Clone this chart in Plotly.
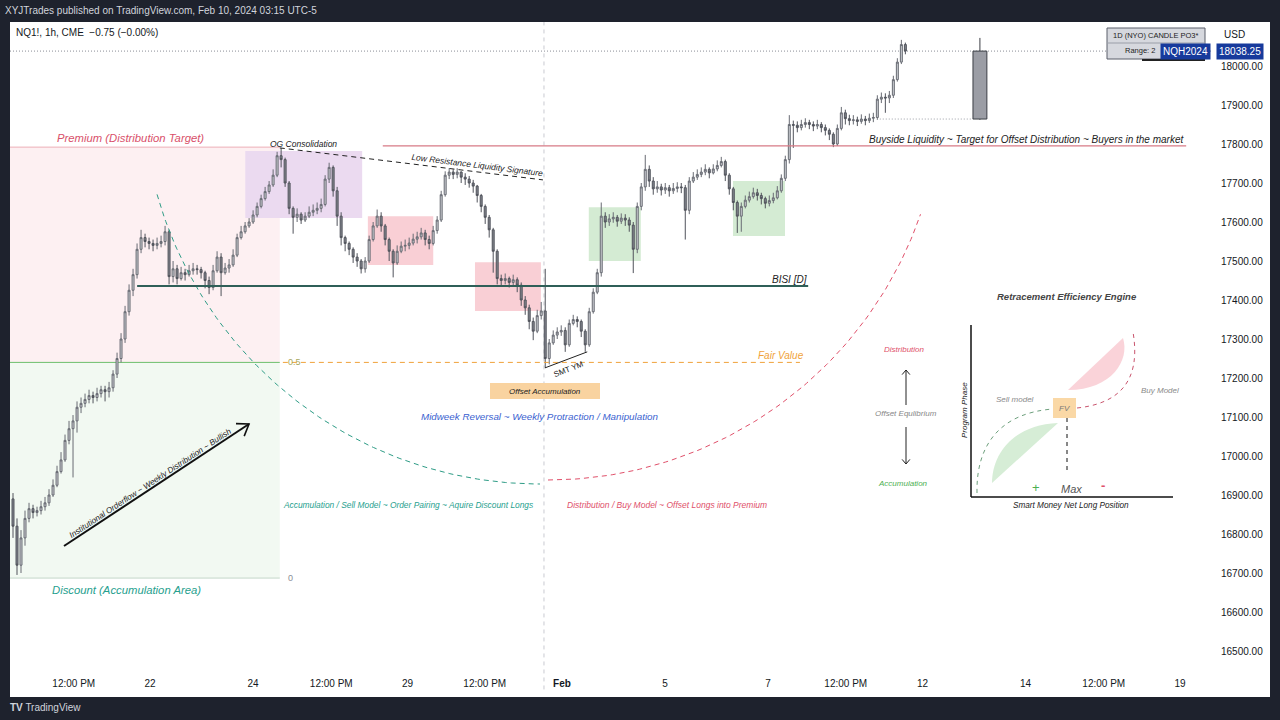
import math
import plotly.graph_objects as go

W, H = 1280, 720
FONT = "Liberation Sans, Arial, sans-serif"

# ---------------- pane geometry / axis calibration ----------------
PANE_L, PANE_R, PANE_T, PANE_B = 10, 1212, 22, 670
DAY0_PX, DAY_PX = 150.0, 51.5            # "22" label position, px per trading day
P_REF, P_REF_PX, PX_PER_PT = 18000.0, 66.0, 0.39

X_RANGE = [(PANE_L - DAY0_PX) / DAY_PX, (PANE_R - DAY0_PX) / DAY_PX]
Y_RANGE = [P_REF - (PANE_B - P_REF_PX) / PX_PER_PT, P_REF + (P_REF_PX - PANE_T) / PX_PER_PT]

def py_of(price):
    return P_REF_PX - (price - P_REF) * PX_PER_PT

# ---------------- data ----------------
X_TICKS = [-1.48, 0, 2, 3.52, 5, 6.5, 8, 10, 12, 13.51, 15, 17, 18.52, 20]
X_LABELS = ["12:00 PM", "22", "24", "12:00 PM", "29", "12:00 PM", "<b>Feb</b>", "5", "7",
            "12:00 PM", "12", "14", "12:00 PM", "19"]
Y_TICKS = [16500, 16600, 16700, 16800, 16900, 17000, 17100, 17200, 17300, 17400,
           17500, 17600, 17700, 17800, 17900, 18000]

FIRST_BAR_DAY = -2.66
BAR_DAYS = 0.0777
FIRST_OPEN = 16890
closes = [16820, 16720, 16790, 16840, 16865, 16855, 16860, 16870, 16880, 16900,
          16925, 16960, 16990, 17040, 17070, 17090, 17125, 17135, 17145, 17155,
          17150, 17160, 17170, 17165, 17175, 17210, 17250, 17300, 17370, 17425,
          17465, 17530, 17560, 17550, 17545, 17540, 17545, 17550, 17575, 17460,
          17480, 17455, 17470, 17465, 17475, 17480, 17478, 17470, 17450, 17432,
          17475, 17510, 17470, 17482, 17490, 17515, 17560, 17575, 17590, 17600,
          17618, 17640, 17660, 17678, 17695, 17720, 17770, 17760, 17700, 17635,
          17612, 17620, 17605, 17615, 17625, 17630, 17635, 17645, 17710, 17740,
          17680, 17615, 17560, 17545, 17530, 17510, 17500, 17480, 17500, 17555,
          17590, 17615, 17590, 17555, 17525, 17495, 17525, 17538, 17540, 17546,
          17556, 17562, 17572, 17555, 17545, 17578, 17605, 17670, 17720, 17728,
          17722, 17728, 17715, 17710, 17700, 17692, 17668, 17640, 17612, 17580,
          17525, 17455, 17450, 17455, 17445, 17452, 17438, 17400, 17380, 17345,
          17320, 17360, 17372, 17250, 17290, 17310, 17318, 17322, 17285, 17340,
          17350, 17345, 17320, 17285, 17370, 17420, 17470, 17615, 17600, 17608,
          17612, 17602, 17610, 17605, 17592, 17530, 17640, 17690, 17735, 17705,
          17685, 17690, 17682, 17688, 17680, 17686, 17690, 17688, 17630, 17705,
          17715, 17722, 17728, 17735, 17726, 17736, 17745, 17755, 17720, 17685,
          17650, 17615, 17640, 17656, 17665, 17675, 17668, 17660, 17648, 17655,
          17662, 17680, 17712, 17760, 17850, 17848, 17842, 17850, 17855, 17850,
          17846, 17850, 17842, 17835, 17825, 17800, 17840, 17880, 17865, 17860,
          17862, 17858, 17864, 17860, 17866, 17868, 17915, 17920, 17918, 17925,
          17965, 18010, 18055, 18038.25]
highs = [16905, 16840, 16810, 16860, 16880, 16875, 16870, 16885, 16895, 16915,
         16940, 16975, 17010, 17055, 17090, 17105, 17140, 17150, 17160, 17170,
         17165, 17175, 17180, 17180, 17190, 17220, 17265, 17315, 17385, 17440,
         17480, 17545, 17580, 17570, 17560, 17555, 17560, 17565, 17590, 17580,
         17500, 17490, 17485, 17480, 17490, 17495, 17490, 17485, 17475, 17460,
         17490, 17525, 17520, 17495, 17505, 17530, 17570, 17590, 17600, 17610,
         17630, 17650, 17670, 17690, 17705, 17735, 17780, 17790, 17765, 17705,
         17640, 17635, 17625, 17625, 17640, 17645, 17650, 17660, 17720, 17752,
         17745, 17690, 17625, 17565, 17550, 17535, 17520, 17505, 17510, 17565,
         17600, 17632, 17625, 17595, 17560, 17530, 17540, 17550, 17555, 17560,
         17570, 17575, 17585, 17580, 17565, 17590, 17615, 17680, 17730, 17738,
         17735, 17738, 17730, 17725, 17718, 17708, 17695, 17672, 17645, 17618,
         17585, 17530, 17465, 17468, 17460, 17465, 17458, 17445, 17410, 17388,
         17355, 17375, 17395, 17480, 17300, 17322, 17330, 17335, 17330, 17350,
         17362, 17358, 17350, 17325, 17380, 17430, 17480, 17650, 17625, 17620,
         17625, 17618, 17622, 17620, 17612, 17600, 17650, 17700, 17772, 17745,
         17715, 17705, 17698, 17700, 17695, 17700, 17702, 17700, 17695, 17715,
         17728, 17735, 17740, 17748, 17740, 17748, 17758, 17767, 17760, 17725,
         17690, 17655, 17650, 17668, 17678, 17688, 17685, 17675, 17665, 17668,
         17675, 17692, 17722, 17770, 17874, 17860, 17858, 17862, 17866, 17862,
         17858, 17862, 17856, 17850, 17840, 17830, 17850, 17895, 17888, 17875,
         17874, 17870, 17876, 17872, 17878, 17880, 17925, 17932, 17930, 17936,
         17975, 18020, 18067, 18060]
lows = [16790, 16695, 16700, 16770, 16830, 16840, 16845, 16850, 16860, 16872,
        16895, 16920, 16955, 16985, 17030, 16945, 17060, 17110, 17125, 17135,
        17135, 17140, 17150, 17140, 17150, 17165, 17200, 17240, 17290, 17360,
        17410, 17455, 17520, 17535, 17530, 17525, 17530, 17535, 17540, 17440,
        17445, 17440, 17450, 17450, 17460, 17465, 17465, 17455, 17430, 17415,
        17425, 17470, 17410, 17465, 17470, 17485, 17510, 17555, 17570, 17585,
        17595, 17612, 17635, 17655, 17672, 17690, 17715, 17740, 17690, 17620,
        17570, 17600, 17595, 17600, 17610, 17615, 17620, 17625, 17640, 17700,
        17665, 17590, 17540, 17525, 17515, 17495, 17485, 17468, 17470, 17495,
        17550, 17585, 17575, 17540, 17500, 17458, 17490, 17520, 17525, 17530,
        17540, 17545, 17555, 17540, 17530, 17540, 17570, 17600, 17665, 17710,
        17710, 17712, 17700, 17695, 17688, 17675, 17650, 17625, 17595, 17560,
        17470, 17440, 17438, 17440, 17432, 17438, 17420, 17385, 17362, 17325,
        17297, 17315, 17350, 17226, 17235, 17285, 17300, 17308, 17267, 17280,
        17335, 17330, 17305, 17267, 17280, 17365, 17415, 17460, 17585, 17590,
        17598, 17588, 17595, 17590, 17575, 17469, 17520, 17630, 17680, 17690,
        17670, 17675, 17668, 17672, 17665, 17672, 17676, 17674, 17555, 17620,
        17700, 17708, 17715, 17720, 17712, 17722, 17730, 17740, 17705, 17670,
        17630, 17572, 17575, 17635, 17650, 17660, 17655, 17645, 17635, 17640,
        17648, 17658, 17675, 17705, 17750, 17790, 17830, 17835, 17842, 17838,
        17833, 17838, 17830, 17822, 17810, 17792, 17795, 17835, 17850, 17848,
        17850, 17846, 17852, 17848, 17854, 17856, 17862, 17905, 17880, 17905,
        17918, 17960, 18005, 18030]
opens = [FIRST_OPEN] + closes[:-1]
bar_days = [FIRST_BAR_DAY + i * BAR_DAYS for i in range(len(closes))]
LAST_PRICE = closes[-1]

# key levels and zones (days, prices)
PREMIUM, EQUILIBRIUM, DISCOUNT = 17792, 17240, 16687
FIB_END_DAY = 2.52
BISI_LEVEL, BISI_DAYS = 17436, (-0.25, 12.78)
FAIR_VALUE_DAYS = (2.58, 12.62)
BSL_LEVEL, BSL_DAYS = 17795, (4.52, 20.12)
LRLS_LINE = ((2.52, 17790), (7.63, 17708))
FOMC_DAY = 7.65
SMT_LINE = ((7.67, 17226), (8.49, 17267))
OG_BOX = (1.85, 4.12, 17610, 17782)
PINK_BOXES = [(4.23, 5.50, 17490, 17615), (6.31, 7.59, 17372, 17497)]
GREEN_BOXES = [(8.52, 9.53, 17500, 17638), (11.32, 12.33, 17564, 17705)]
PO3_DAYS = (15.98, 16.25)
PO3_OHLC = (17864, 18072, 17862, 18038.25)
PO3_LINE_START = 14.17

fig = go.Figure()

fig.add_trace(go.Candlestick(
    x=bar_days, open=opens, high=highs, low=lows, close=closes,
    increasing=dict(line=dict(color="#686b73", width=1), fillcolor="#cdcfd4"),
    decreasing=dict(line=dict(color="#50535b", width=1), fillcolor="#83868e"),
    whiskerwidth=0, showlegend=False, hoverinfo="skip"))

# ---------------- pixel-space drawing geometry (x2 / y2 overlay) ----------------
def arc_pts(cx, cy, r, a0, a1, sign, n=90):
    xs, ys = [], []
    for k in range(n + 1):
        a = math.radians(a0 + (a1 - a0) * k / n)
        xs.append(cx + sign * r * math.sin(a))
        ys.append(cy + r * math.cos(a))
    return xs, ys

tx, ty = arc_pts(540, 86, 398, 74.2, 0, -1)
rx, ry = arc_pts(548, 86, 394, 0, 71, 1)
fig.add_trace(go.Scatter(x=tx, y=ty, xaxis="x2", yaxis="y2", mode="lines",
                         line=dict(color="#2e9c86", width=1, dash="5px,4px"),
                         showlegend=False, hoverinfo="skip"))
fig.add_trace(go.Scatter(x=rx, y=ry, xaxis="x2", yaxis="y2", mode="lines",
                         line=dict(color="#e0506a", width=1, dash="5px,4px"),
                         showlegend=False, hoverinfo="skip"))

shapes = []
annos = []

def P(px, py):
    return px / W, 1 - py / H

# frame (white chart area)
shapes.append(dict(type="rect", xref="paper", yref="paper", x0=P(10, 0)[0], x1=P(1270, 0)[0],
                   y0=P(0, 697)[1], y1=P(0, 22)[1], fillcolor="white", line=dict(width=0), layer="below"))

def drect(x0, x1, y0, y1, fill, layer="below"):
    shapes.append(dict(type="rect", xref="x", yref="y", x0=x0, x1=x1, y0=y0, y1=y1,
                       fillcolor=fill, line=dict(width=0), layer=layer))

def dline(x0, y0, x1, y1, color, width=1, dash="solid", layer="above", xref="x", yref="y"):
    shapes.append(dict(type="line", xref=xref, yref=yref, x0=x0, y0=y0, x1=x1, y1=y1,
                       line=dict(color=color, width=width, dash=dash), layer=layer))

# premium / discount fib
drect(X_RANGE[0], FIB_END_DAY, EQUILIBRIUM, PREMIUM, "#fdf0f2")
drect(X_RANGE[0], FIB_END_DAY, DISCOUNT, EQUILIBRIUM, "#f2f9f2")
dline(X_RANGE[0], PREMIUM, FIB_END_DAY, PREMIUM, "#eeb0b8", layer="below")
dline(X_RANGE[0], EQUILIBRIUM, FIB_END_DAY, EQUILIBRIUM, "#6cbf6c", layer="below")
dline(X_RANGE[0], DISCOUNT, FIB_END_DAY, DISCOUNT, "#c3d6c9", layer="below")

drect(*OG_BOX, "#ebdaf0")
for b in PINK_BOXES:
    drect(*b, "#f9cfd5")
for b in GREEN_BOXES:
    drect(*b, "#d4ebd3")

# FOMC vertical
shapes.append(dict(type="line", xref="x", yref="y domain", x0=FOMC_DAY, x1=FOMC_DAY, y0=-0.03, y1=1,
                   line=dict(color="#c9cbd1", width=1, dash="4px,4px"), layer="below"))
# last price dotted
shapes.append(dict(type="line", xref="x domain", yref="y", x0=0, x1=1, y0=LAST_PRICE, y1=LAST_PRICE,
                   line=dict(color="#8a8d96", width=1, dash="1px,2px"), layer="below"))
dline(PO3_LINE_START, PO3_OHLC[0], PO3_DAYS[0], PO3_OHLC[0], "#9a9da5", 1, "1px,2px", layer="below")

# levels
dline(BISI_DAYS[0], BISI_LEVEL, BISI_DAYS[1], BISI_LEVEL, "#2f5f58", 2)
dline(FAIR_VALUE_DAYS[0], EQUILIBRIUM, FAIR_VALUE_DAYS[1], EQUILIBRIUM, "#f0a23a", 1, "5px,4px")
dline(BSL_DAYS[0], BSL_LEVEL, BSL_DAYS[1], BSL_LEVEL, "#d77a86", 1.2)
dline(LRLS_LINE[0][0], LRLS_LINE[0][1], LRLS_LINE[1][0], LRLS_LINE[1][1], "#222222", 1, "5px,4px")
dline(SMT_LINE[0][0], SMT_LINE[0][1], SMT_LINE[1][0], SMT_LINE[1][1], "#222222", 1)

# PO3 daily candle
po_mid = (PO3_DAYS[0] + PO3_DAYS[1]) / 2
dline(po_mid, PO3_OHLC[3], po_mid, PO3_OHLC[1], "#3b3e45", 1)
dline(po_mid, PO3_OHLC[2], po_mid, PO3_OHLC[0], "#3b3e45", 1)
shapes.append(dict(type="rect", xref="x", yref="y", x0=PO3_DAYS[0], x1=PO3_DAYS[1],
                   y0=PO3_OHLC[0], y1=PO3_OHLC[3], fillcolor="#9b9da5",
                   line=dict(color="#3b3e45", width=1), layer="above"))

# ---- pixel overlay helpers ----
def pline(x0, y0, x1, y1, color="#111", width=1, dash="solid"):
    dline(x0, y0, x1, y1, color, width, dash, layer="above", xref="x2", yref="y2")

def ppath(d, color="#111", width=1, dash="solid", fill=None):
    s = dict(type="path", xref="x2", yref="y2", path=d, layer="above",
             line=dict(color=color, width=width, dash=dash))
    if fill:
        s["fillcolor"] = fill
        s["line"] = dict(width=0)
    shapes.append(s)

def prect(x0, y0, x1, y1, fill, line=None):
    shapes.append(dict(type="rect", xref="x2", yref="y2", x0=x0, y0=y0, x1=x1, y1=y1,
                       fillcolor=fill, line=line or dict(width=0), layer="above"))

def chevron(tail, tip, length=11, half=35):
    dx, dy = tip[0] - tail[0], tip[1] - tail[1]
    n = math.hypot(dx, dy)
    ux, uy = dx / n, dy / n
    pts = []
    for s in (1, -1):
        a = math.radians(half * s)
        vx = ux * math.cos(a) - uy * math.sin(a)
        vy = ux * math.sin(a) + uy * math.cos(a)
        pts.append((tip[0] - length * vx, tip[1] - length * vy))
    return f"M {pts[0][0]:.1f} {pts[0][1]:.1f} L {tip[0]} {tip[1]} L {pts[1][0]:.1f} {pts[1][1]:.1f}"

def t2(x, y, s, size=9, color="#131722", italic=True, bold=False, angle=0, anchor="center"):
    if bold:
        s = f"<b>{s}</b>"
    if italic:
        s = f"<i>{s}</i>"
    annos.append(dict(x=x, y=y, xref="x2", yref="y2", text=s, showarrow=False, textangle=angle,
                      font=dict(size=size, color=color, family=FONT), xanchor=anchor, yanchor="middle"))

def tp(px, py, s, size=10, color="#131722", anchor="center", bg=None, pad=1):
    x, y = P(px, py)
    d = dict(x=x, y=y, xref="paper", yref="paper", text=s, showarrow=False,
             font=dict(size=size, color=color, family=FONT), xanchor=anchor, yanchor="middle")
    if bg:
        d.update(bgcolor=bg, borderpad=pad)
    annos.append(d)

# institutional orderflow arrow
INST_TAIL, INST_TIP = (64, 546), (249, 424)
pline(*INST_TAIL, *INST_TIP, "#111", 2)
ppath(chevron(INST_TAIL, INST_TIP, 13, 35), "#111", 1.6)

# offset accumulation box
prect(490, 383, 600, 399, "#f9d3a0")

# engine diagram
ENG_AXIS = dict(x=971, top=325, bottom=497, right=1173)
pline(ENG_AXIS["x"], ENG_AXIS["top"], ENG_AXIS["x"], ENG_AXIS["bottom"], "#111", 1.5)
pline(ENG_AXIS["x"], ENG_AXIS["bottom"], ENG_AXIS["right"], ENG_AXIS["bottom"], "#111", 1.5)
ppath("M 992 483 C 992 455 1012 425 1058 423 Z", fill="#d6edd6")
ppath("M 1068 390 L 1123 338 C 1130 360 1112 390 1068 390 Z", fill="#fad3d9")
ppath("M 977 493 C 976 445 1000 413 1053 409", "#6d9f7c", 1, "4px,4px")
ppath("M 1077 408 C 1115 404 1142 385 1133 332", "#c9546d", 1, "4px,4px")
prect(1053, 398, 1076, 418, "#fad8a6")
pline(1067, 418, 1067, 472, "#111", 1, "4px,4px")
pline(906, 405, 906, 370, "#222", 1)
ppath(chevron((906, 405), (906, 370), 6, 40), "#222", 1)
pline(906, 427, 906, 464, "#222", 1)
ppath(chevron((906, 427), (906, 464), 6, 40), "#222", 1)

# ---- texts on the chart ----
t2(130, 138, "Premium (Distribution Target)", 11.3, "#d9506a")
t2(126, 590, "Discount (Accumulation Area)", 11.3, "#26a08e")
t2(294, 362, "0.5", 9, "#a8a860", italic=False)
t2(290, 578, "0", 9, "#8a8d96", italic=False)
t2(303, 144, "OG Consolidation", 8.5, "#222")
t2(477, 165, "Low Resistance Liquidity Signature", 8.5, "#222", angle=7.2)
t2(1026, 139, "Buyside Liquidity ~ Target for Offset Distribution ~ Buyers in the market", 10, "#222")
t2(789, 279, "BISI [D]", 10, "#222")
t2(781, 355, "Fair Value", 10, "#f0a23a")
t2(568, 369, "SMT YM", 8, "#222", italic=False, angle=-21)
t2(545, 391, "Offset Accumulation", 8, "#222")
t2(539, 416, "Midweek Reversal ~ Weekly Protraction / Manipulation", 9.8, "#3a62d0")
t2(408, 505, "Accumulation / Sell Model ~ Order Pairing ~ Aquire Discount Longs", 8.4, "#26a08e")
t2(667, 505, "Distribution / Buy Model ~ Offset Longs into Premium", 8.5, "#e0506a")
t2(150, 483, "Institutional Orderflow ~ Weekly Distribution ~ Bullish", 8.2, "#222", angle=-33.4)

t2(1067, 296, "Retracement Efficiency Engine", 9.5, "#444", bold=True)
t2(904, 349, "Distribution", 8, "#e0506a")
t2(906, 413, "Offset Equlibrium", 8, "#888")
t2(903, 483, "Accumulation", 8, "#4caf50")
t2(964, 410, "Program Phase", 8, "#222", angle=-90)
t2(1071, 505, "Smart Money Net Long Position", 8.2, "#222")
t2(1015, 399, "Sell model", 8, "#8a8a8a")
t2(1160, 390, "Buy Model", 8, "#8a8a8a")
t2(1064, 408, "FV", 8, "#777")
t2(1036, 487, "+", 13, "#4caf50", italic=False)
t2(1071, 489, "Max", 11, "#555")
t2(1103, 485, "-", 13, "#e0506a", italic=False, bold=True)

# ---- chrome (paper space) ----
tp(3, 11, "XYJTrades published on TradingView.com, Feb 10, 2024 03:15 UTC-5", 10, "#d1d4dc", "left")
tp(14, 33, "NQ1!, 1h, CME  \u22120.75 (\u22120.00%)", 10, "#131722", "left")
tp(8, 707, "<b>TV</b> TradingView", 10, "#d1d4dc", "left")

shapes.append(dict(type="rect", xref="paper", yref="paper", x0=P(1107, 0)[0], x1=P(1205, 0)[0],
                   y0=P(0, 59)[1], y1=P(0, 28)[1], fillcolor="#d6d8de",
                   line=dict(color="#5a5e6a", width=1), layer="above"))
shapes.append(dict(type="line", xref="paper", yref="paper", x0=P(1107, 0)[0], x1=P(1205, 0)[0],
                   y0=P(0, 43)[1], y1=P(0, 43)[1], line=dict(color="#9a9ea8", width=1), layer="above"))
shapes.append(dict(type="line", xref="paper", yref="paper", x0=P(1142, 0)[0], x1=P(1205, 0)[0],
                   y0=P(0, 60)[1], y1=P(0, 60)[1], line=dict(color="#222", width=2), layer="above"))
tp(1156, 35.5, "1D (NYO) CANDLE PO3*", 7.5, "#222")
tp(1140, 51, "Range: 2", 7.5, "#222")
tp(1234, 34, "USD", 10, "#131722")
lp_y = py_of(LAST_PRICE)
tp(1185, lp_y, "NQH2024", 10, "white", bg="#173a9c", pad=2)
tp(1240, lp_y, f"{LAST_PRICE:.2f}", 10, "white", bg="#173a9c", pad=2)

fig.update_layout(
    width=W, height=H, margin=dict(l=0, r=0, t=0, b=0),
    paper_bgcolor="#1e222d", plot_bgcolor="rgba(0,0,0,0)",
    font=dict(family=FONT, color="#131722"),
    showlegend=False,
    shapes=shapes, annotations=annos,
    xaxis=dict(domain=[PANE_L / W, PANE_R / W], range=X_RANGE, showgrid=False, zeroline=False,
               showline=False, ticks="", tickvals=X_TICKS, ticktext=X_LABELS,
               tickfont=dict(size=10, color="#131722"), rangeslider=dict(visible=False),
               fixedrange=True, ticklabelstandoff=6),
    yaxis=dict(domain=[1 - PANE_B / H, 1 - PANE_T / H], range=Y_RANGE, side="right",
               showgrid=False, zeroline=False, showline=False, ticks="",
               tickvals=Y_TICKS, ticktext=[f"{v:.2f}" for v in Y_TICKS],
               tickfont=dict(size=10, color="#131722"), fixedrange=True, ticklabelstandoff=8),
    xaxis2=dict(overlaying="x", range=[PANE_L, PANE_R], visible=False, fixedrange=True),
    yaxis2=dict(overlaying="y", range=[PANE_B, PANE_T], visible=False, fixedrange=True),
)

fig.write_html("out.html", config={"displayModeBar": False})
